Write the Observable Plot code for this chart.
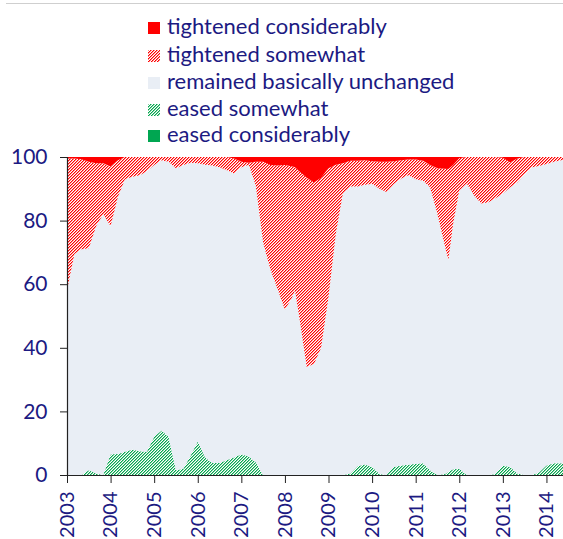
<!DOCTYPE html>
<html>
<head>
<meta charset="utf-8">
<script src="https://cdn.jsdelivr.net/npm/d3@7"></script>
<script src="https://cdn.jsdelivr.net/npm/@observablehq/plot@0.6"></script>
<style>
  html, body { margin: 0; padding: 0; background: #fff; }
  #wrap { position: relative; width: 563px; height: 539px; overflow: hidden; font-family: Lato, "Open Sans", sans-serif; }
  #topline { position: absolute; top: 3px; left: 6px; right: 0; border-top: 1px solid #cfcfcf; }
  #legend { position: absolute; left: 148px; top: 0; }
  .item { position: absolute; left: 0; white-space: nowrap; font-size: 22px; color: #1c1a82; line-height: 22px; }
  .item svg { position: absolute; left: 0; top: 5px; }
  .item span { position: absolute; left: 19px; top: -2px; }
  #chart { position: absolute; left: 0; top: 145px; }
</style>
</head>
<body>
<svg width="0" height="0" style="position:absolute">
  <defs>
    <pattern id="hatchRed" patternUnits="userSpaceOnUse" width="3" height="3">
      <rect width="3" height="3" fill="#ffffff"/>
      <rect x="2" y="0" width="1" height="1" fill="#ff0000"/>
      <rect x="0" y="0" width="1" height="1" fill="#ff8a8a"/>
      <rect x="1" y="1" width="1" height="1" fill="#ff0000"/>
      <rect x="2" y="1" width="1" height="1" fill="#ff8a8a"/>
      <rect x="0" y="2" width="1" height="1" fill="#ff0000"/>
      <rect x="1" y="2" width="1" height="1" fill="#ff8a8a"/>
    </pattern>
    <pattern id="hatchGreen" patternUnits="userSpaceOnUse" width="3" height="3">
      <rect width="3" height="3" fill="#ffffff"/>
      <rect x="2" y="0" width="1" height="1" fill="#00a650"/>
      <rect x="0" y="0" width="1" height="1" fill="#8ad3a6"/>
      <rect x="1" y="1" width="1" height="1" fill="#00a650"/>
      <rect x="2" y="1" width="1" height="1" fill="#8ad3a6"/>
      <rect x="0" y="2" width="1" height="1" fill="#00a650"/>
      <rect x="1" y="2" width="1" height="1" fill="#8ad3a6"/>
    </pattern>
  </defs>
</svg>
<div id="wrap">
  <div id="topline"></div>
  <div id="legend"></div>
  <div id="chart"></div>
</div>
<script>
// ---- data (decimal years) ----
const dates = [
  2003.00, 2003.17, 2003.33, 2003.50, 2003.67, 2003.83,
  2004.00, 2004.17, 2004.33, 2004.50, 2004.67, 2004.83,
  2005.00, 2005.17, 2005.33, 2005.50, 2005.67, 2005.83,
  2006.00, 2006.17, 2006.33, 2006.50, 2006.67, 2006.83,
  2007.00, 2007.17, 2007.33, 2007.50, 2007.67, 2007.83,
  2008.00, 2008.17, 2008.23, 2008.33, 2008.50, 2008.67, 2008.83,
  2009.00, 2009.17, 2009.33, 2009.50, 2009.67, 2009.83,
  2010.00, 2010.17, 2010.33, 2010.50, 2010.67, 2010.83,
  2011.00, 2011.17, 2011.33, 2011.50, 2011.67, 2011.75, 2011.86,
  2012.00, 2012.17, 2012.36, 2012.51, 2012.67, 2012.83,
  2013.00, 2013.17, 2013.33, 2013.50, 2013.67, 2013.83,
  2014.00, 2014.17, 2014.33, 2014.38
];

const easedConsiderably = [
  0, 0, 0, 0, 0, 0,
  0, 0, 0, 0, 0, 0,
  0, 0, 0, 0, 0, 0,
  0, 0, 0, 0, 0, 0,
  0, 0, 0, 0, 0, 0,
  0, 0, 0, 0, 0, 0, 0,
  0, 0, 0, 0, 0, 0,
  0, 0, 0, 0, 0, 0,
  0, 0, 0, 0, 0, 0, 0,
  0, 0, 0, 0, 0, 0,
  0, 0, 0, 0, 0, 0,
  0, 0, 0, 0
];

const easedSomewhat = [
  0, 0, 0, 1.5, 0.5, 0,
  6.5, 6.6, 7.3, 8, 7.5, 7.3,
  12, 14, 12, 1.5, 2, 6,
  10.5, 5.5, 3.8, 3.8, 4.7, 5.5,
  6.5, 5.8, 4, 0, 0, 0,
  0, 0, 0, 0, 0, 0, 0,
  0, 0, 0, 0.5, 2.8, 3.3,
  2.5, 0.3, 0, 2.5, 3, 3.2,
  3.5, 3.7, 1.5, 0, 0.3, 1, 1.8,
  2, 0, 0, 0, 0, 0.3,
  3, 2.5, 0.5, 0, 0, 0.8,
  3, 3.7, 3.7, 3.7
];

const unchanged = [
  58, 69.5, 71, 69.8, 77.8, 82,
  71.8, 80.9, 85.7, 85.8, 86.8, 88.2,
  85.5, 85, 86.5, 95, 95.5, 92.2,
  87.5, 92.1, 93.5, 93, 91.1, 89.3,
  90.3, 91.8, 87, 73, 64.5, 58.5,
  52, 56, 58, 49.5, 34, 35, 40,
  56, 76, 88.5, 90.2, 87.9, 88,
  89, 89.7, 89, 89, 90.2, 91.1,
  89.5, 88.8, 89, 82, 71.7, 66.6, 77.2,
  87.5, 91.7, 87.5, 85.4, 85.8, 86.7,
  85.5, 88, 91.5, 94.5, 96.8, 96.4,
  94.8, 94.8, 95.3, 95.3
];

const tightenedSomewhat = [
  41.5, 30, 28.3, 27.2, 19.7, 16,
  18.7, 11.5, 7, 6.2, 5.7, 4.5,
  2.5, 1, 1.5, 3.5, 2.5, 1.8,
  2, 2.4, 2.7, 3.2, 4.2, 4.7,
  1.7, 0.6, 7.5, 25.5, 33, 38.8,
  45.5, 41, 38.8, 46, 59.5, 57, 53.5,
  40.5, 21.6, 9.5, 8.1, 8.1, 7.7,
  7.2, 8.5, 9.5, 7.2, 5.8, 4.9,
  6.2, 6.3, 7, 14.5, 24.3, 28.6, 18.5,
  10.1, 8.3, 12.5, 14.6, 14.2, 13,
  11.3, 7.8, 7.5, 5.5, 3.2, 2.8,
  2.2, 1.5, 1, 1
];

const tightenedConsiderably = [
  0.5, 0.5, 0.7, 1.5, 2, 2,
  3, 1, 0, 0, 0, 0,
  0, 0, 0, 0, 0, 0,
  0, 0, 0, 0, 0, 0.5,
  1.5, 1.8, 1.5, 1.5, 2.5, 2.7,
  2.5, 3, 3.2, 4.5, 6.5, 8, 6.5,
  3.5, 2.4, 2, 1.2, 1.2, 1,
  1.3, 1.5, 1.5, 1.3, 1, 0.8,
  0.8, 1.2, 2.5, 3.5, 3.7, 3.8, 2.5,
  0.4, 0, 0, 0, 0, 0,
  0.2, 1.7, 0.5, 0, 0, 0,
  0, 0, 0, 0
];

const seriesNames = [
  "eased considerably",
  "eased somewhat",
  "remained basically unchanged",
  "tightened somewhat",
  "tightened considerably"
];
const seriesFills = ["#00a651", "url(#hatchGreen)", "#e9eef5", "url(#hatchRed)", "#ff0000"];
const yTicks = [0, 20, 40, 60, 80, 100];
const xTicks = [2003, 2004, 2005, 2006, 2007, 2008, 2009, 2010, 2011, 2012, 2013, 2014];

const seriesValues = [easedConsiderably, easedSomewhat, unchanged, tightenedSomewhat, tightenedConsiderably];
const rows = [];
seriesNames.forEach((name, s) => {
  dates.forEach((t, i) => rows.push({t, v: seriesValues[s][i], series: name}));
});

// ---- legend (top to bottom) ----
const legendOrder = [4, 3, 2, 1, 0];
const legendTops = [17, 45, 72, 99, 125];
const legend = document.getElementById("legend");
legendOrder.forEach((s, k) => {
  const div = document.createElement("div");
  div.className = "item";
  div.style.top = legendTops[k] + "px";
  div.innerHTML = `<svg width="12" height="12"><rect width="12" height="12" fill="${seriesFills[s]}"/></svg><span>${seriesNames[s]}</span>`;
  legend.appendChild(div);
});

// ---- chart ----
const navy = "#1c1a82";
const chart = Plot.plot({
  width: 563,
  height: 394,
  marginTop: 12,
  marginBottom: 64,
  marginLeft: 67,
  marginRight: 0,
  style: {fontFamily: "Lato, 'Open Sans', sans-serif", background: "transparent", overflow: "visible"},
  x: {domain: [2003, 2014.38], ticks: xTicks},
  y: {domain: [0, 100], ticks: yTicks},
  color: {domain: seriesNames, range: seriesFills},
  marks: [
    Plot.areaY(rows, Plot.stackY({
      x: "t", y: "v", z: "series", fill: "series",
      order: seriesNames
    })),
    Plot.axisY({
      ticks: yTicks, tickSize: 7, tickPadding: 13, fontSize: 21,
      color: navy, stroke: "#222", label: null
    }),
    Plot.axisX({
      ticks: xTicks, tickSize: 8, tickPadding: 8, tickRotate: -90, fontSize: 20,
      color: navy, stroke: "#222", label: null, tickFormat: d => String(d)
    }),
    Plot.ruleX([2003], {stroke: "#222", strokeWidth: 1.2}),
    Plot.ruleY([0], {stroke: "#222", strokeWidth: 1.2})
  ]
});
document.getElementById("chart").appendChild(chart);
</script>
</body>
</html>
